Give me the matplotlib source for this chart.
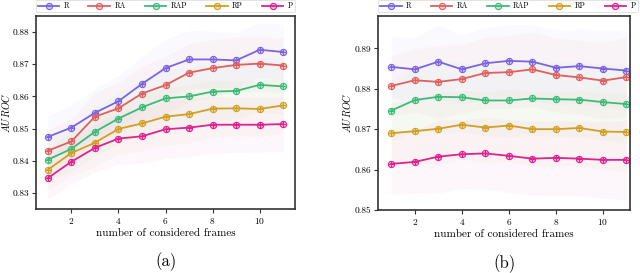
import numpy as np
import matplotlib
matplotlib.use("Agg")
import matplotlib.pyplot as plt

plt.rcParams['font.family'] = 'serif'
plt.rcParams['font.serif'] = ['cmr10', 'DejaVu Serif']
plt.rcParams['mathtext.fontset'] = 'cm'
plt.rcParams['axes.unicode_minus'] = False
plt.rcParams['axes.formatter.use_mathtext'] = True

frames = list(range(1, 12))
labels = ['R', 'RA', 'RAP', 'RP', 'P']
colors = ['#7b63e3', '#e0605f', '#3cbb78', '#d19f23', '#e0228e']

# panel (a)
a_R = [0.8474, 0.8503, 0.8549, 0.8585, 0.8639, 0.8688, 0.8715, 0.8715, 0.8712, 0.8745, 0.8738]
a_RA = [0.8431, 0.8460, 0.8537, 0.8563, 0.8609, 0.8635, 0.8674, 0.8688, 0.8698, 0.8702, 0.8696]
a_RAP = [0.8403, 0.8437, 0.8490, 0.8531, 0.8566, 0.8594, 0.8600, 0.8615, 0.8617, 0.8636, 0.8631]
a_RP = [0.8372, 0.8424, 0.8456, 0.8499, 0.8516, 0.8537, 0.8545, 0.8562, 0.8563, 0.8561, 0.8572]
a_P = [0.8346, 0.8397, 0.8440, 0.8469, 0.8476, 0.8498, 0.8503, 0.8512, 0.8512, 0.8512, 0.8514]
a_std = [0.0065, 0.007, 0.0075, 0.008, 0.0085, 0.009, 0.009, 0.0088, 0.0086, 0.0085, 0.0085]

# panel (b)
b_R = [0.8854, 0.8848, 0.8867, 0.8848, 0.8863, 0.8869, 0.8867, 0.8852, 0.8856, 0.8850, 0.8845]
b_RA = [0.8807, 0.8821, 0.8817, 0.8824, 0.8839, 0.8841, 0.8848, 0.8834, 0.8828, 0.8820, 0.8829]
b_RAP = [0.8746, 0.8772, 0.8780, 0.8779, 0.8771, 0.8771, 0.8776, 0.8774, 0.8773, 0.8767, 0.8762]
b_RP = [0.8690, 0.8695, 0.8701, 0.8711, 0.8704, 0.8709, 0.8700, 0.8700, 0.8703, 0.8694, 0.8693]
b_P = [0.8614, 0.8619, 0.8632, 0.8638, 0.8640, 0.8634, 0.8627, 0.8629, 0.8627, 0.8624, 0.8624]
b_std = [0.0075, 0.0078, 0.009, 0.0085, 0.0088, 0.009, 0.0092, 0.0092, 0.0092, 0.0095, 0.0098]

panels = [
    ([a_R, a_RA, a_RAP, a_RP, a_P], a_std, (0.825, 0.885), (0.5, 11.5),
     [0.83, 0.84, 0.85, 0.86, 0.87, 0.88], '(a)', -0.092),
    ([b_R, b_RA, b_RAP, b_RP, b_P], b_std, (0.85, 0.898), (0.45, 11.15),
     [0.85, 0.86, 0.87, 0.88, 0.89], '(b)', -0.1),
]
positions = [[0.05625, 0.2344, 0.4047, 0.707], [0.5911, 0.2308, 0.3933, 0.7106]]

fig = plt.figure(figsize=(6.4, 2.73), dpi=100)
x = np.array(frames)
for (series, std, ylim, xlim, yticks, cap, lx), pos in zip(panels, positions):
    ax = fig.add_axes(pos)
    std = np.array(std)
    for vals, lab, c in zip(series, labels, colors):
        vals = np.array(vals)
        ax.fill_between(x, vals - std, vals + std, color=c, alpha=0.035, lw=0)
        ax.plot(x, vals, color=c, lw=1.3, marker='o', ms=4.5,
                mfc=matplotlib.colors.to_rgba(c, 0.35), mec=c, mew=0.8, label=lab)
        ax.plot(x, vals, ls='none', marker='+', ms=4.5, color=c, mew=0.7)
    ax.set_xlim(*xlim)
    ax.set_ylim(*ylim)
    ax.set_xticks([2, 4, 6, 8, 10])
    ax.set_yticks(yticks)
    ax.set_yticklabels(['%.2f' % t for t in yticks])
    ax.tick_params(labelsize=6.8, length=3, width=0.8, color='#333333', pad=2)
    for s in ax.spines.values():
        s.set_color('#333333')
        s.set_linewidth(1.2)
    ax.set_xlabel('number of considered frames', fontsize=8, labelpad=2)
    ax.set_ylabel('$AU\\,ROC$', fontsize=7.2)
    ax.yaxis.set_label_coords(lx, 0.5)
    leg = ax.legend(loc='lower left', bbox_to_anchor=(0, 1.02, 1.0 if cap == '(a)' else 1.03, 0.06),
                    mode='expand', ncol=5, borderaxespad=0, fontsize=5.5, frameon=True,
                    handlelength=2.8, borderpad=0.25, handletextpad=0.6)
    leg.get_frame().set_edgecolor('#dddddd')
    leg.get_frame().set_linewidth(0.8)
    ax.text(0.5, -0.275, cap, transform=ax.transAxes, ha='center', va='center', fontsize=12)

fig.savefig('out.png', dpi=100)
